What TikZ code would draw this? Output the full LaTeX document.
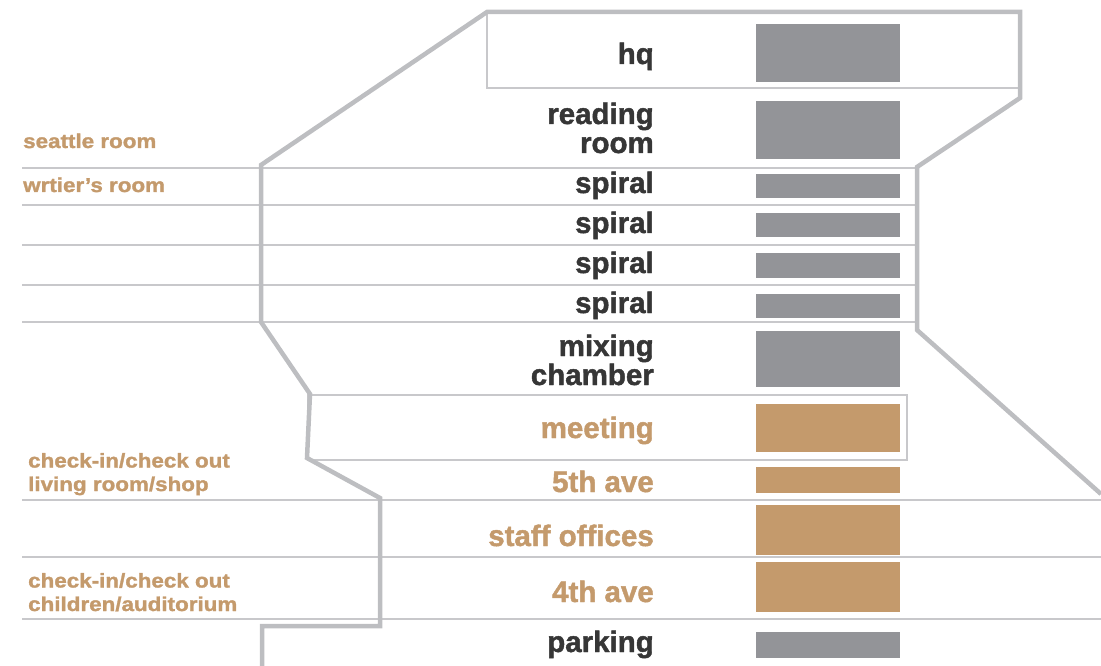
\documentclass[tikz,border=0pt]{standalone}
\usepackage{fontspec}
\setmainfont{Liberation Sans}[BoldFeatures={FakeBold=1.5}]
\newfontfamily\widefont[FakeStretch=1.12,BoldFeatures={FakeBold=1.5}]{Liberation Sans}

\definecolor{wallgrey}{HTML}{BDBEC1}
\definecolor{rulegrey}{HTML}{C8C8CB}
\definecolor{bargrey}{HTML}{939498}
\definecolor{bartan}{HTML}{C49A6C}
\definecolor{inkdark}{HTML}{363636}

\tikzset{
  wall/.style={draw=wallgrey,line width=4.5pt},
  rule/.style={draw=rulegrey,line width=2pt},
  floorname/.style={font=\fontsize{29.5}{29}\selectfont\bfseries,text=inkdark,
    anchor=base east,inner sep=0pt,align=right},
  tanname/.style={floorname,text=bartan},
  sidename/.style={font=\widefont\fontsize{20}{23.5}\selectfont\bfseries,text=bartan,
    anchor=base west,inner sep=0pt,align=left},
}

\begin{document}
\begin{tikzpicture}[x=1pt,y=-1pt]
\useasboundingbox (0,0) rectangle (1101,666);
% thin floor lines:
\foreach \y in {168,205,245,285,322}
  \path[rule] (22,\y) -- (917,\y);
\foreach \y in {500,557,619}
  \path[rule] (22,\y) -- (1101,\y);
\path[rule] (487,12) rectangle (1020,88);
\path[rule] (308,395) rectangle (907,460);
% building outline:
\path[wall] (1101,494) -- (917,330) -- (917,167) -- (1020,98) -- (1020,12)
  -- (487,12) -- (261,165) -- (261,322) -- (310,394) -- (307,458)
  -- (380,498) -- (380,626) -- (262,626) -- (262,666);
% bars:
\foreach \top/\bot/\col in {24/82/bargrey,101/159/bargrey,174/198/bargrey,
    213/237/bargrey,253/278/bargrey,294/318/bargrey,331/387/bargrey,
    404/452/bartan,467/493/bartan,505/555/bartan,562/612/bartan,632/658/bargrey}
  \path[fill=\col] (756,\top) rectangle (900,\bot);
% floor names (two-line ones sit on their last line):
\node[floorname] (hq) at (654,64) {hq};
\node[floorname] (reading) at (654,153) {reading\\room};
\node[floorname] (spiralA) at (654,193) {spiral};
\node[floorname] (spiralB) at (654,233) {spiral};
\node[floorname] (spiralC) at (654,273) {spiral};
\node[floorname] (spiralD) at (654,313) {spiral};
\node[floorname] (mixing) at (654,385) {mixing\\chamber};
\node[tanname] (meeting) at (654,438) {meeting};
\node[tanname] (fifth) at (654,492) {5th ave};
\node[tanname] (staff) at (654,546) {staff offices};
\node[tanname] (fourth) at (654,602) {4th ave};
\node[floorname] (parking) at (654,652) {parking};
% side names:
\node[sidename] (seattle) at (23,148) {seattle room};
\node[sidename] (writer) at (23,192) {wrtier’s room};
\node[sidename] (checkA) at (28,491) {check-in/check out\\living room/shop};
\node[sidename] (checkB) at (28,611) {check-in/check out\\children/auditorium};
\end{tikzpicture}
\end{document}
